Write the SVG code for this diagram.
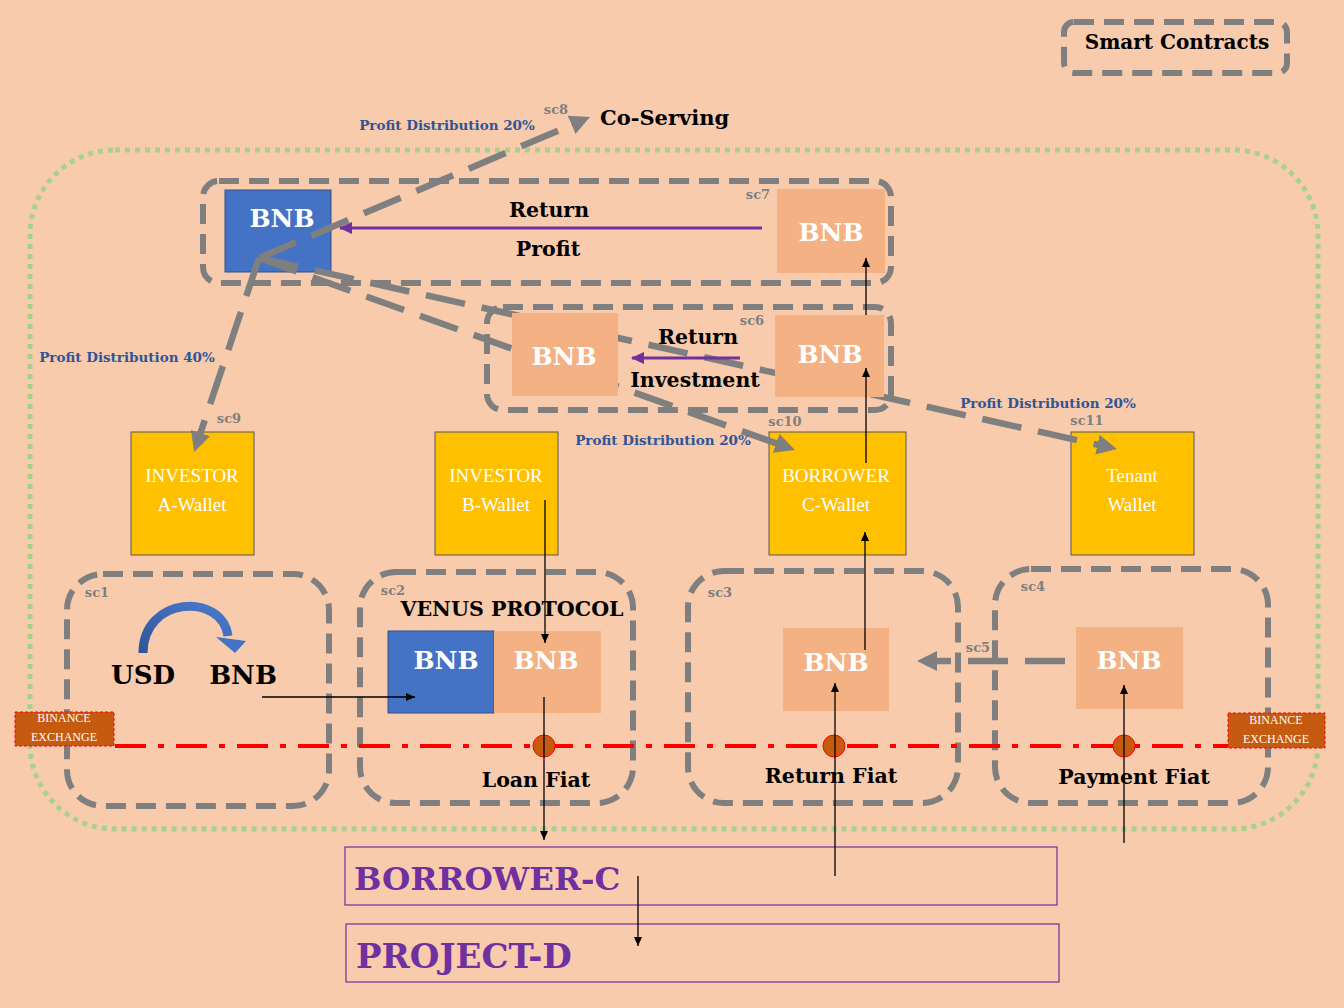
<svg xmlns="http://www.w3.org/2000/svg" width="1344" height="1008" viewBox="0 0 1344 1008">
<defs>
<style>
.bg{fill:#F8CBAD}
.frame{fill:none;stroke:#7F7F7F;stroke-width:6;stroke-dasharray:20 10}
.gconn{fill:none;stroke:#7F7F7F;stroke-width:6.5;stroke-dasharray:40 17}
.blk{fill:none;stroke:#000;stroke-width:1.3}
.pur{fill:none;stroke:#7030A0;stroke-width:3}
.bluebox{fill:#4472C4;stroke:#2F528F;stroke-width:1}
.peach{fill:#F4B183}
.wallet{fill:#FFC000;stroke:#595959;stroke-width:1}
.bnb{font-family:"DejaVu Serif",serif;font-weight:bold;font-size:25px;fill:#fff;text-anchor:middle}
.lbl{font-family:"DejaVu Serif",serif;font-weight:bold;font-size:20.5px;fill:#000;text-anchor:middle}
.pd{font-family:"DejaVu Serif",serif;font-weight:bold;font-size:13.5px;fill:#2F5597;text-anchor:middle}
.sc{font-family:"DejaVu Serif",serif;font-weight:bold;font-size:13px;fill:#7F7F7F;text-anchor:middle}
.wt{font-family:"Liberation Serif",serif;font-size:19px;fill:#fff;text-anchor:middle}
.bx{font-family:"Liberation Serif",serif;font-size:12px;fill:#fff;text-anchor:middle}
.big{font-family:"DejaVu Serif",serif;font-weight:bold;fill:#7030A0}
.exch{fill:#C55A11;stroke:#FF0000;stroke-width:1;stroke-dasharray:3 2}
.coin{fill:#C55A11;stroke:#FF0000;stroke-width:1}
</style>
<marker id="ga" markerUnits="userSpaceOnUse" markerWidth="22" markerHeight="22" refX="2" refY="10" orient="auto">
<path d="M0,0 L20,10 L0,20 z" fill="#7F7F7F"/>
</marker>
<marker id="ba" markerUnits="userSpaceOnUse" markerWidth="10" markerHeight="8" refX="9" refY="4" orient="auto">
<path d="M0,0 L9,4 L0,8 z" fill="#000"/>
</marker>
<marker id="pa" markerUnits="userSpaceOnUse" markerWidth="14" markerHeight="12" refX="12" refY="6" orient="auto">
<path d="M0,0 L13,6 L0,12 z" fill="#7030A0"/>
</marker>
<linearGradient id="arcg" x1="0" y1="1" x2="1" y2="0">
<stop offset="0" stop-color="#2F5597"/>
<stop offset="1" stop-color="#4A7BD0"/>
</linearGradient>
</defs>

<rect class="bg" x="0" y="0" width="1344" height="1008"/>

<g id="boundary">
<rect x="30" y="150" width="1288" height="679" rx="85" ry="85" fill="none" stroke="#A9D18E" stroke-width="5" stroke-dasharray="5 5"/>
</g>

<g id="legend">
<rect class="frame" x="1064" y="22" width="223" height="51" rx="10"/>
<text x="1177" y="49" class="lbl" style="font-size:20px">Smart Contracts</text>
</g>

<g id="sc7">
<rect class="frame" x="203" y="181" width="688" height="102" rx="16"/>
<text x="758" y="199" class="sc">sc7</text>
</g>
<g id="sc6">
<rect class="frame" x="487" y="307" width="404" height="103" rx="16"/>
<text x="752" y="325" class="sc">sc6</text>
</g>

<g id="bnb-co-serving">
<rect class="bluebox" x="225" y="190" width="106" height="82"/>
<text x="282" y="227" class="bnb">BNB</text>
</g>

<g id="investor-a">
<rect class="wallet" x="131" y="432" width="123" height="123"/>
<text x="192" y="482" class="wt">INVESTOR</text>
<text x="192" y="511" class="wt">A-Wallet</text>
<text x="229" y="423" class="sc">sc9</text>
</g>
<g id="investor-b">
<rect class="wallet" x="435" y="432" width="123" height="123"/>
<text x="496" y="482" class="wt">INVESTOR</text>
<text x="496" y="511" class="wt">B-Wallet</text>
</g>
<g id="borrower-c-wallet">
<rect class="wallet" x="769" y="432" width="137" height="123"/>
<text x="836" y="482" class="wt">BORROWER</text>
<text x="836" y="511" class="wt">C-Wallet</text>
<text x="785" y="426" class="sc">sc10</text>
</g>
<g id="tenant-wallet">
<rect class="wallet" x="1071" y="432" width="123" height="123"/>
<text x="1132" y="482" class="wt">Tenant</text>
<text x="1132" y="511" class="wt">Wallet</text>
<text x="1087" y="425" class="sc">sc11</text>
</g>

<g id="connectors-gray">
<line class="gconn" x1="259" y1="258" x2="573.4" y2="124.1" marker-end="url(#ga)"/>
<line class="gconn" x1="259" y1="258" x2="199.8" y2="435" marker-end="url(#ga)"/>
<line class="gconn" x1="259" y1="258" x2="778" y2="444" marker-end="url(#ga)"/>
<line class="gconn" x1="259" y1="258" x2="1099.4" y2="445.1" marker-end="url(#ga)"/>
<line class="gconn" x1="1065" y1="661" x2="935" y2="661" stroke-dasharray="47 18" marker-end="url(#ga)"/>
</g>

<g id="bnb-sc7">
<rect class="peach" x="777" y="189" width="108" height="84"/>
<text x="831" y="241" class="bnb">BNB</text>
</g>
<g id="bnb-sc6-left">
<rect class="peach" x="512" y="313" width="106" height="83"/>
<text x="564" y="365" class="bnb">BNB</text>
</g>
<g id="bnb-sc6-right">
<rect class="peach" x="775" y="315" width="109" height="82"/>
<text x="830" y="363" class="bnb">BNB</text>
</g>

<g id="return-profit">
<line class="pur" x1="762" y1="228" x2="340" y2="228" marker-end="url(#pa)"/>
<text x="549" y="217" class="lbl">Return</text>
<text x="548" y="256" class="lbl">Profit</text>
</g>
<g id="return-investment">
<line class="pur" x1="740" y1="358" x2="632" y2="358" marker-end="url(#pa)"/>
<text x="698" y="344" class="lbl">Return</text>
<text x="695" y="387" class="lbl">Investment</text>
</g>

<g id="co-serving">
<text x="600" y="125" class="lbl" style="font-size:21px;text-anchor:start">Co-Serving</text>
<text x="556" y="114" class="sc">sc8</text>
<text x="447" y="130" class="pd">Profit Distribution 20%</text>
</g>
<g id="pd-labels">
<text x="127" y="362" class="pd">Profit Distribution 40%</text>
<text x="663" y="445" class="pd">Profit Distribution 20%</text>
<text x="1048" y="408" class="pd">Profit Distribution 20%</text>
</g>

<g id="sc1">
<rect class="frame" x="67" y="574" width="262" height="232" rx="36"/>
<text x="97" y="597" class="sc">sc1</text>
<path d="M143,653 C143,596 222,592 228,636" fill="none" stroke="url(#arcg)" stroke-width="9"/>
<path d="M216,637 L246,641 L235,653 z" fill="#4472C4"/>
<text x="143" y="684" class="lbl" style="font-size:26px">USD</text>
<text x="243" y="684" class="lbl" style="font-size:26px">BNB</text>
</g>
<g id="sc2">
<rect class="frame" x="360" y="572" width="273" height="231" rx="36"/>
<text x="393" y="595" class="sc">sc2</text>
<text x="512" y="616" class="lbl" style="font-size:20.6px">VENUS PROTOCOL</text>
<rect class="bluebox" x="388" y="631" width="106" height="82"/>
<rect class="peach" x="494" y="631" width="107" height="82"/>
<text x="446" y="669" class="bnb">BNB</text>
<text x="546" y="669" class="bnb">BNB</text>
</g>
<g id="sc3">
<rect class="frame" x="688" y="571" width="270" height="232" rx="36"/>
<text x="720" y="597" class="sc">sc3</text>
<rect class="peach" x="783" y="628" width="106" height="83"/>
<text x="836" y="671" class="bnb">BNB</text>
</g>
<g id="sc4">
<rect class="frame" x="995" y="569" width="273" height="234" rx="36"/>
<text x="1033" y="591" class="sc">sc4</text>
<rect class="peach" x="1076" y="627" width="107" height="82"/>
<text x="1129" y="669" class="bnb">BNB</text>
</g>
<text x="978" y="652" class="sc">sc5</text>

<g id="fiat-line">
<line x1="115" y1="746" x2="1228" y2="746" stroke="#FF0000" stroke-width="4" stroke-dasharray="31 12 6 12"/>
<circle class="coin" cx="544" cy="746" r="11"/>
<circle class="coin" cx="834" cy="746" r="11"/>
<circle class="coin" cx="1124" cy="746" r="11"/>
</g>

<g id="binance-left">
<rect class="exch" x="15" y="712" width="99" height="34"/>
<text x="64" y="722" class="bx">BINANCE</text>
<text x="64" y="741" class="bx">EXCHANGE</text>
</g>
<g id="binance-right">
<rect class="exch" x="1228" y="713" width="97" height="35"/>
<text x="1276" y="724" class="bx">BINANCE</text>
<text x="1276" y="743" class="bx">EXCHANGE</text>
</g>

<g id="fiat-labels">
<text x="536" y="787" class="lbl">Loan Fiat</text>
<text x="831" y="783" class="lbl">Return Fiat</text>
<text x="1134" y="784" class="lbl">Payment Fiat</text>
</g>

<g id="borrower-c">
<rect x="345" y="847" width="712" height="58" fill="none" stroke="#7030A0" stroke-width="1.2"/>
<text x="354" y="890" class="big" style="font-size:32.5px">BORROWER-C</text>
</g>
<g id="project-d">
<rect x="346" y="924" width="713" height="58" fill="none" stroke="#7030A0" stroke-width="1.2"/>
<text x="356" y="968" class="big" style="font-size:34px">PROJECT-D</text>
</g>

<g id="connectors-black">
<line class="blk" x1="262" y1="697" x2="415" y2="697" marker-end="url(#ba)"/>
<line class="blk" x1="545" y1="500" x2="545" y2="643" marker-end="url(#ba)"/>
<line class="blk" x1="544" y1="697" x2="544" y2="840" marker-end="url(#ba)"/>
<line class="blk" x1="835" y1="876" x2="835" y2="683" marker-end="url(#ba)"/>
<line class="blk" x1="865" y1="650" x2="865" y2="532" marker-end="url(#ba)"/>
<line class="blk" x1="866" y1="463" x2="866" y2="368" marker-end="url(#ba)"/>
<line class="blk" x1="866" y1="315" x2="866" y2="258" marker-end="url(#ba)"/>
<line class="blk" x1="1124" y1="843" x2="1124" y2="685" marker-end="url(#ba)"/>
<line class="blk" x1="638" y1="876" x2="638" y2="946" marker-end="url(#ba)"/>
</g>
</svg>
